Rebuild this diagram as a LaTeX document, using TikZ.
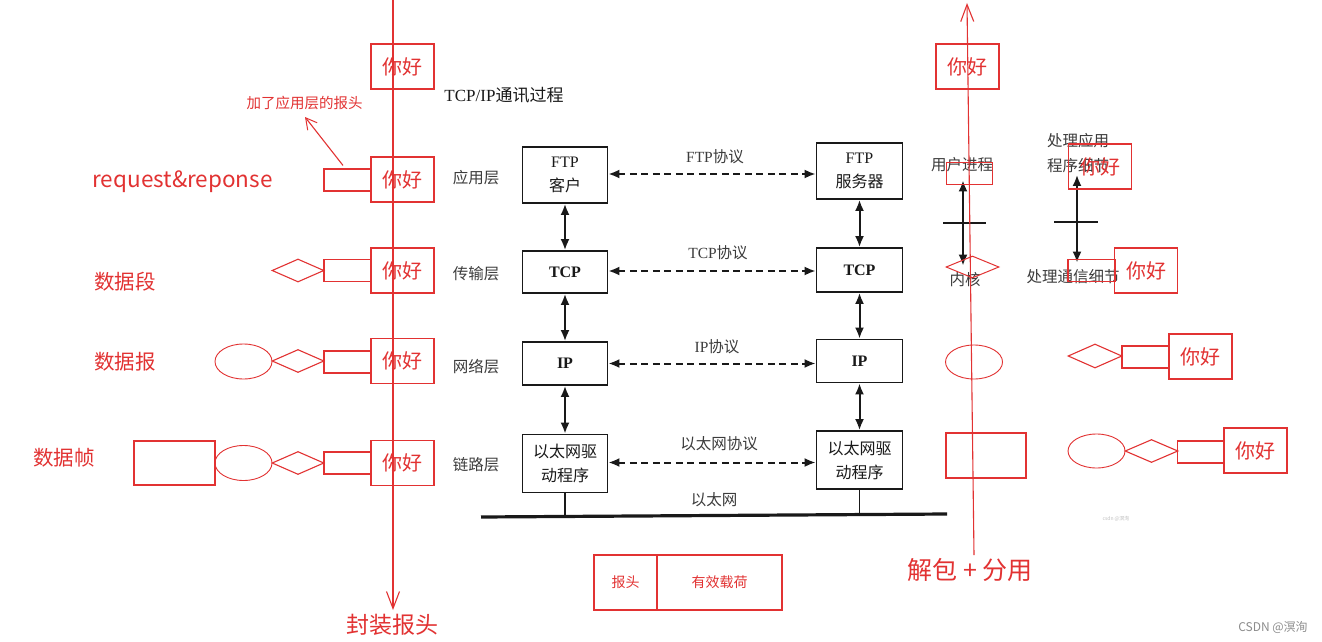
\documentclass[tikz,border=0pt]{standalone}
\usepackage{fontspec}
\setmainfont{Noto Sans CJK SC}
\newfontfamily\ser{Liberation Serif}
\usetikzlibrary{arrows.meta,shapes.geometric}
\definecolor{rd}{RGB}{226,50,50}
\definecolor{bk}{RGB}{25,25,25}
\definecolor{gtxt}{RGB}{60,60,60}
\newcommand{\fs}[1]{\fontsize{#1}{#1}\selectfont}
\begin{document}
\begin{tikzpicture}[x=1pt,y=-1pt,
  rline/.style={draw=rd,line width=1.1pt},
  nh/.style={draw=rd,line width=1.1pt,minimum width=63pt,minimum height=45pt,inner sep=0pt,text=rd,font=\fs{20}},
  srect/.style={draw=rd,line width=1.1pt,minimum width=47pt,minimum height=22pt,inner sep=0pt},
  rdia/.style={draw=rd,line width=1.1pt,diamond,minimum width=52pt,minimum height=23pt,inner sep=0pt},
  rell/.style={draw=rd,line width=0.9pt,ellipse,minimum width=57pt,minimum height=35pt,inner sep=0pt},
  rlab/.style={text=rd,inner sep=0pt},
  bbox/.style={draw=bk,line width=1.8pt,minimum width=85pt,inner sep=0pt,align=center,text=bk,font=\fontsize{16}{18}\selectfont},
  blab/.style={text=gtxt,inner sep=1pt,font=\fontsize{15.5}{25}\selectfont,align=center},
  barrow/.style={draw=bk,line width=2pt,{Latex[length=11pt,width=9pt]}-{Latex[length=11pt,width=9pt]}},
  darrow/.style={barrow,dash pattern=on 7pt off 4.5pt},
  bigbarb/.style={-{Straight Barb[length=17pt,width=13pt,line width=1.1pt]}},
]
\useasboundingbox (0,0) rectangle (1322,642);
\fill[white] (0,0) rectangle (1322,642);

% ---------------- black TCP/IP diagram ----------------
\node[text=bk,inner sep=0pt,font=\fs{17}] (title) at (504,95) {{\ser TCP/IP}通讯过程};

\node[blab] (l1) at (476,178) {应用层};
\node[blab] (l2) at (476,274) {传输层};
\node[blab] (l3) at (476,367) {网络层};
\node[blab] (l4) at (476,465) {链路层};

\node[bbox,minimum height=56pt] (ftpc) at (565,175) {{\ser FTP}\\[6pt]客户};
\node[bbox,minimum height=42pt] (tcpl) at (565,272) {\ser\bfseries TCP};
\node[bbox,minimum height=43pt] (ipl) at (565,363.5) {\ser\bfseries IP};
\node[bbox,minimum height=58pt] (drvl) at (565,463.5) {以太网驱\\[6pt]动程序};

\node[bbox,minimum width=86pt,minimum height=56pt] (ftps) at (859.5,171) {{\ser FTP}\\[6pt]服务器};
\node[bbox,minimum width=86pt,minimum height=44pt] (tcpr) at (859.5,270) {\ser\bfseries TCP};
\node[bbox,minimum width=86pt,minimum height=43pt] (ipr) at (859.5,361) {\ser\bfseries IP};
\node[bbox,minimum width=86pt,minimum height=58pt] (drvr) at (859.5,460) {以太网驱\\[6pt]动程序};

\draw[barrow] (ftpc) -- (tcpl);
\draw[barrow] (tcpl) -- (ipl);
\draw[barrow] (ipl) -- (drvl);
\draw[barrow] (ftps) -- (tcpr);
\draw[barrow] (tcpr) -- (ipr);
\draw[barrow] (ipr) -- (drvr);

\draw[darrow] ([yshift=1pt]ftpc.east) -- ([yshift=1pt]ftpc.east -| ftps.west);
\draw[darrow] ([yshift=1pt]tcpl.east) -- ([yshift=1pt]tcpl.east -| tcpr.west);
\draw[darrow] (ipl.east) -- (ipl.east -| ipr.west);
\draw[darrow] ([yshift=1pt]drvl.east) -- ([yshift=1pt]drvl.east -| drvr.west);

\node[blab] (p1) at (715,157) {{\ser FTP}协议};
\node[blab] (p2) at (718,253) {{\ser TCP}协议};
\node[blab] (p3) at (717,347) {{\ser IP}协议};
\node[blab] (p4) at (719,444) {以太网协议};
\node[blab] (p5) at (714,500) {以太网};

\coordinate (e1) at (481,517);
\coordinate (e2) at (947,514);
\draw[draw=bk,line width=3.2pt] (e1) -- (e2);
\draw[draw=bk,line width=1.2pt] (drvl.south) -- (drvl.south |- e1);
\draw[draw=bk,line width=1.2pt] (drvr.south) -- ([yshift=1pt]drvr.south |- e2);

% right-hand book annotations
\node[blab] (up) at (962,165) {用户进程};
\node[blab] (kern) at (965,280) {内核};
\node[blab] (app) at (1078,153) {处理应用\\程序细节};
\node[blab] (comm) at (1073,277) {处理通信细节};
\draw[barrow,shorten <=7pt,shorten >=6pt] (up.south -| 963,0) -- (kern.north -| 963,0);
\draw[barrow,shorten <=1pt,shorten >=6pt] (app.south -| 1077,0) -- (comm.north -| 1077,0);
\draw[draw=bk,line width=1.8pt] (943,223) -- (986,223);
\draw[draw=bk,line width=1.8pt] (1054,222) -- (1098,222);

% ---------------- left red annotations ----------------
\coordinate (ltop) at (393,-2);
\coordinate (lbot) at (393,610);
\draw[rline,bigbarb] (ltop) -- (lbot);
\node[rlab,font=\fs{23}] (fz) at (392,625) {封装报头};

\node[nh] (n1) at (402.5,66.5) {你好};
\node[nh] (n2) at (402.5,179.5) {你好};
\node[nh] (n3) at (402.5,270.5) {你好};
\node[nh] (n4) at (402.5,361) {你好};
\node[nh] (n5) at (402.5,463) {你好};

\node[srect] (s2) at (347.5,180) {};
\node[srect] (s3) at (347.5,270.5) {};
\node[srect] (s4) at (347.5,362) {};
\node[srect] (s5) at (347.5,463) {};

\node[rdia] (d3) at (298,270.5) {};
\node[rdia] (d4) at (298,361) {};
\node[rdia] (d5) at (298,463) {};

\node[rell] (el4) at (243.5,361.5) {};
\node[rell] (el5) at (243.5,463) {};
\node[draw=rd,line width=1.1pt,minimum width=81pt,minimum height=44pt,inner sep=0pt] (fr5) at (174.5,463) {};

\node[rlab,font=\fs{14.5}] (addh) at (304.5,103) {加了应用层的报头};
\draw[rline,-{Straight Barb[length=11pt,width=12pt,line width=1pt]}] ([xshift=-4.5pt,yshift=3pt]s2.north) -- (305,117);

\node[rlab,font=\fs{22.5}] (rq) at (182.5,182) {request\&reponse};
\node[rlab,font=\fs{20.5}] (sjd) at (125,282) {数据段};
\node[rlab,font=\fs{20.5}] (sjb) at (125,362) {数据报};
\node[rlab,font=\fs{20.5}] (sjz) at (64,458) {数据帧};

% ---------------- right red annotations ----------------
\coordinate (rtop) at (967,3);
\coordinate (rbot) at (974,555);
\draw[rline,bigbarb] (rbot) -- (rtop);
\node[rlab,font=\fs{25}] (jb) at (970,570) {解包 + 分用};

\node[nh] (m1) at (967.5,66.5) {你好};
\node[draw=rd,line width=1pt,minimum width=46pt,minimum height=22pt,inner sep=0pt] (q2) at (969,173) {};
\node[nh] (m2) at (1100,166.5) {你好};
\node[draw=rd,line width=1pt,diamond,minimum width=53pt,minimum height=22pt,inner sep=0pt] (qd3) at (972.5,267) {};
\node[srect] (q3) at (1091.5,270.5) {};
\node[nh] (m3) at (1146,270.5) {你好};

\node[rell,minimum height=34pt] (qe4) at (974,362) {};
\node[rdia,minimum width=54pt,minimum height=24pt] (qd4) at (1095,356) {};
\node[srect] (q4) at (1145.5,357) {};
\node[nh] (m4) at (1200.5,356.5) {你好};

\node[draw=rd,line width=1.1pt,minimum width=80pt,minimum height=45pt,inner sep=0pt] (qr5) at (986,455.5) {};
\node[rell,minimum height=34pt] (qe5) at (1096.5,451) {};
\node[rdia,minimum width=53pt,minimum height=23pt] (qd5) at (1151.5,451) {};
\node[srect] (q5) at (1201,452) {};
\node[nh] (m5) at (1255.5,450.5) {你好};

% ---------------- bottom header / payload ----------------
\node[draw=rd,line width=1.1pt,minimum width=63pt,minimum height=55pt,inner sep=0pt,text=rd,font=\fs{14}] (hd) at (625.5,582.5) {报头};
\node[draw=rd,line width=1.1pt,minimum width=125pt,minimum height=55pt,inner sep=0pt,text=rd,font=\fs{14}] (pl) at (719.5,582.5) {有效载荷};

% watermarks
\node[text=black!45,inner sep=0pt,font=\fs{12}] (wm) at (1273,627) {CSDN @溟洵};
\node[text=black!25,inner sep=0pt,font=\fs{5}] (wm2) at (1116,519) {csdn @溟洵};
\end{tikzpicture}
\end{document}
